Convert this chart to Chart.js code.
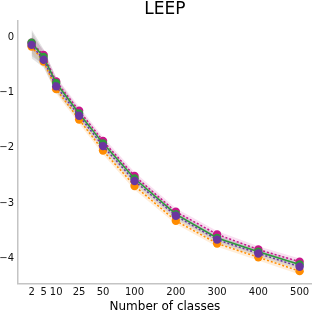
<!DOCTYPE html>
<html>
<head>
<meta charset="utf-8">
<script src="https://cdn.jsdelivr.net/npm/chart.js@4"></script>
<style>
  html, body { margin: 0; padding: 0; background: #fff; }
  #wrap { width: 316px; height: 314px; }
</style>
</head>
<body>
<div id="wrap"><canvas id="c" width="316" height="314"></canvas></div>
<script>
const classes = [2, 5, 10, 25, 50, 100, 200, 300, 400, 500];

const magentaMean = [-0.10, -0.32, -0.80, -1.33, -1.875, -2.51, -3.155, -3.565, -3.84, -4.06];
const greenMean = [-0.10, -0.36, -0.83, -1.38, -1.92, -2.555, -3.20, -3.63, -3.88, -4.11];
const purpleMean = [-0.14, -0.41, -0.89, -1.42, -1.97, -2.60, -3.23, -3.66, -3.91, -4.15];
const orangeMean = [-0.17, -0.44, -0.94, -1.49, -2.05, -2.69, -3.32, -3.73, -3.98, -4.23];

const magentaErr = [0.12, 0.09, 0.08, 0.07, 0.07, 0.07, 0.06, 0.06, 0.06, 0.06];
const greenErr = [0.24, 0.14, 0.10, 0.08, 0.07, 0.07, 0.06, 0.06, 0.06, 0.06];
const purpleErr = [0.24, 0.14, 0.10, 0.08, 0.07, 0.07, 0.06, 0.06, 0.06, 0.06];
const orangeErr = [0.12, 0.09, 0.08, 0.07, 0.07, 0.07, 0.06, 0.06, 0.06, 0.06];

const yTicks = [-4, -3, -2, -1, 0];

// the x axis is squeezed for big class counts, stretched for small ones
const xPos = n => n <= 100 ? Math.pow(n, 0.4) : Math.pow(100, 0.4) + (n - 100) / 50;

const pts = ys => ys.map((y, i) => ({ x: xPos(classes[i]), y }));

function band(mean, err, color, order) {
    const lo = mean.map((m, i) => m - err[i]);
    const hi = mean.map((m, i) => m + err[i]);
    return [
        { data: pts(lo), borderWidth: 0, pointRadius: 0, fill: false, order },
        { data: pts(hi), borderWidth: 0, pointRadius: 0, fill: '-1', backgroundColor: color, order },
    ];
}

function series(mean, color, dash, order) {
    return {
        data: pts(mean),
        borderColor: color,
        backgroundColor: color,
        borderWidth: 1.5,
        borderDash: dash,
        pointRadius: 4.2,
        pointBorderWidth: 0,
        pointBackgroundColor: color,
        fill: false,
        tension: 0,
        order,
    };
}

new Chart(document.getElementById('c'), {
    type: 'line',
    data: {
        datasets: [
            ...band(orangeMean, orangeErr, 'rgba(255,140,0,0.15)', 20),
            ...band(magentaMean, magentaErr, 'rgba(214,44,160,0.15)', 19),
            ...band(greenMean, greenErr, 'rgba(120,120,120,0.2)', 18),
            ...band(purpleMean, purpleErr, 'rgba(120,120,120,0.2)', 17),
            series(orangeMean, '#ff8c00', [2, 2], 4),
            series(magentaMean, '#c8168c', [2, 2], 3),
            series(greenMean, '#2e9a3a', [], 2),
            series(purpleMean, '#6b35a0', [2, 2], 1),
        ],
    },
    options: {
        responsive: false,
        animation: false,
        layout: { padding: { left: 0, right: 2, top: 0, bottom: 0 } },
        plugins: {
            legend: { display: false },
            tooltip: { enabled: false },
            title: {
                display: true,
                text: 'LEEP',
                fullSize: false,
                color: '#000',
                font: { family: 'DejaVu Sans', size: 17, weight: 'normal', lineHeight: 1.15 },
                padding: { top: 0, bottom: 1 },
            },
        },
        scales: {
            x: {
                type: 'linear',
                min: 0.662,
                max: 14.9,
                grid: { display: false, drawTicks: false },
                border: { display: true, color: '#c4c4c4', width: 1.5 },
                afterBuildTicks: scale => { scale.ticks = classes.map(n => ({ value: xPos(n) })); },
                afterFit: scale => { scale.height = 30.7; },
                ticks: {
                    autoSkip: false,
                    maxRotation: 0,
                    padding: 3,
                    color: '#111',
                    font: { family: 'DejaVu Sans', size: 10 },
                    callback: (v, i) => String(classes[i]),
                },
                title: {
                    display: true,
                    text: 'Number of classes',
                    color: '#000',
                    font: { family: 'DejaVu Sans', size: 12 },
                    padding: { top: 0, bottom: 0 },
                },
            },
            y: {
                min: -4.45,
                max: 0.3,
                grid: { display: false, drawTicks: false },
                border: { display: true, color: '#c4c4c4', width: 1.5 },
                afterBuildTicks: scale => { scale.ticks = yTicks.map(v => ({ value: v })); },
                afterFit: scale => { scale.width = 18; },
                ticks: {
                    padding: 4,
                    color: '#111',
                    font: { family: 'DejaVu Sans', size: 10 },
                    callback: v => v === 0 ? '0' : '\u2212' + Math.abs(v),
                },
            },
        },
    },
});
</script>
</body>
</html>
